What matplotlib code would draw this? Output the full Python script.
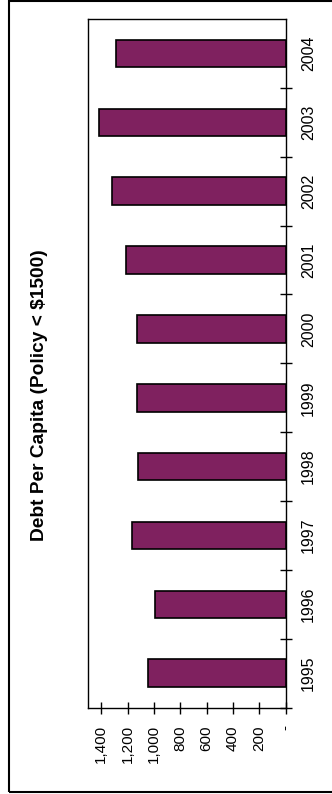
import matplotlib
matplotlib.use('Agg')
import matplotlib.pyplot as plt
from matplotlib.patches import Rectangle
from matplotlib.ticker import FuncFormatter, FixedLocator

# Debt per capita by year
years = ['1995', '1996', '1997', '1998', '1999', '2000', '2001', '2002', '2003', '2004']
debt = [1043, 990, 1164, 1119, 1129, 1131, 1214, 1321, 1417, 1290]
value_ticks = [0, 200, 400, 600, 800, 1000, 1200, 1400]
title = 'Debt Per Capita (Policy < $1500)'

plt.rcParams['font.family'] = ['Liberation Sans', 'DejaVu Sans']

W, H = 332, 794
fig = plt.figure(figsize=(W / 100, H / 100), dpi=100, facecolor='white')

# chart is a column chart turned on its side: years on the right, values along the bottom
ax = fig.add_axes([88 / W, (H - 707.7) / H, (285.7 - 88) / W, (707.7 - 19) / H])
pos = list(range(len(years)))
ax.barh(pos, debt, height=0.4, color='#7f215f', edgecolor='black', linewidth=1.2, zorder=3)

ax.set_xlim(1500, 0)
ax.set_ylim(-0.5, len(years) - 0.5)

# category axis on the right
ax.yaxis.tick_right()
ax.yaxis.set_major_locator(FixedLocator([p - 0.5 for p in pos]))
ax.yaxis.set_minor_locator(FixedLocator(pos))
ax.yaxis.set_major_formatter(FuncFormatter(lambda v, p: ''))
ax.yaxis.set_minor_formatter(FuncFormatter(lambda v, p: years[int(round(v))]))
ax.tick_params(axis='y', which='major', direction='inout', length=8, width=1, right=True, left=False)
ax.tick_params(axis='y', which='minor', length=0, pad=11, labelsize=11.5, labelrotation=90,
               right=True, left=False, labelright=True, labelleft=False)
for lab in ax.yaxis.get_minorticklabels():
    lab.set_va('center')

# value axis along the bottom
ax.xaxis.set_major_locator(FixedLocator(value_ticks))
ax.xaxis.set_major_formatter(FuncFormatter(lambda v, p: '-' if v == 0 else f'{v:,.0f}'))
ax.tick_params(axis='x', direction='inout', length=8, width=1, pad=8.5, labelsize=11, labelrotation=90)

for s in ax.spines.values():
    s.set_linewidth(1)
    s.set_color('black')

fig.text(40 / W, 1 - 395 / H, title, rotation=90, ha='center', va='center',
         fontsize=13.8, fontweight='bold')

# outer chart border (runs off the right edge)
fig.patches.append(Rectangle((8.5 / W, 2 / H), 1.0, 1 - 3 / H, transform=fig.transFigure,
                             fill=False, edgecolor='black', linewidth=1.5))

fig.savefig('out.png', dpi=100)
